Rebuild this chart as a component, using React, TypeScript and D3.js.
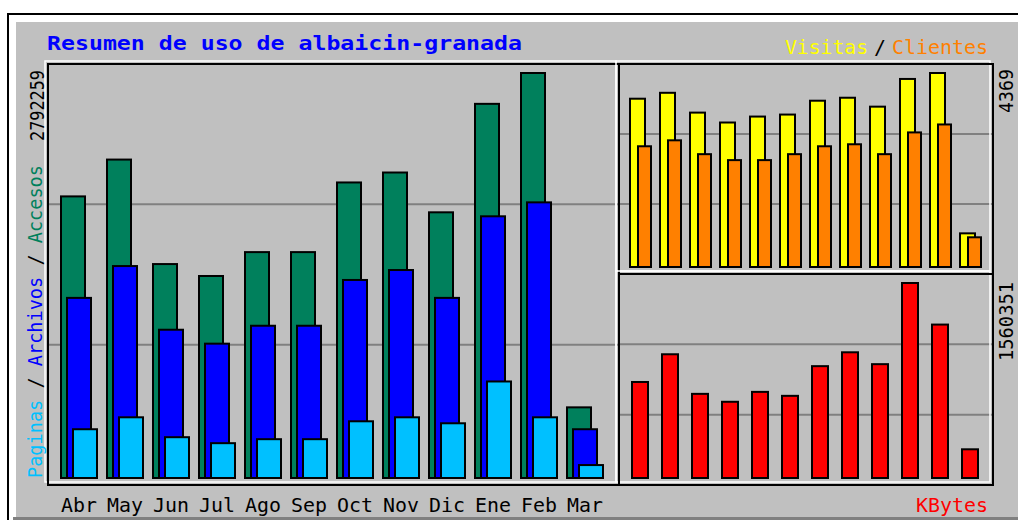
import React from "react";
import * as d3 from "d3";

// Monthly usage summary (webalizer style)
const months = ["Abr", "May", "Jun", "Jul", "Ago", "Sep", "Oct", "Nov", "Dic", "Ene", "Feb", "Mar"];
const accesos = [1941500, 2195400, 1475000, 1392700, 1557400, 1557400, 2037600, 2106200, 1831800, 2579600, 2792259, 487100];
const archivos = [1241800, 1461300, 1022200, 926200, 1049700, 1049700, 1365300, 1433900, 1241800, 1804300, 1900400, 336200];
const paginas = [336200, 418500, 281300, 240100, 267600, 267600, 391000, 418500, 377300, 665500, 418500, 89200];
const visitas = [3790, 3923, 3477, 3254, 3388, 3433, 3745, 3812, 3611, 4235, 4369, 758];
const clientes = [2719, 2853, 2541, 2407, 2407, 2541, 2719, 2764, 2541, 3031, 3210, 669];
const kbytes = [768300, 990100, 673300, 609900, 689100, 657400, 895000, 1005900, 910900, 1560351, 1227700, 229700];

const GRAY = "#c0c0c0";
const DKGRAY = "#808080";
const FONT = "'DejaVu Sans Mono', monospace";

// boxes (black frame)
const L = { x1: 48, y1: 64, x2: 619, y2: 485 };
const RT = { x1: 619, y1: 64, x2: 993, y2: 274 };
const RB = { x1: 619, y1: 274, x2: 993, y2: 485 };

const Frame = ({ b }) => {
  const h = b.y2 - b.y1;
  return (
    <g>
      {[1, 2].map((k) => (
        <line key={k} x1={b.x1} x2={b.x2} y1={b.y1 + (h * k) / 3} y2={b.y1 + (h * k) / 3} stroke={DKGRAY} strokeWidth={2} />
      ))}
      <rect x={b.x1 - 3} y={b.y1 - 3} width={b.x2 - b.x1} height={b.y2 - b.y1} fill="none" stroke="#fff" strokeWidth={1.5} />
      <rect x={b.x1} y={b.y1} width={b.x2 - b.x1} height={b.y2 - b.y1} fill="none" stroke="#000" strokeWidth={2} />
    </g>
  );
};

const Bars = ({ values, x, y, base, offset, width, color }) => (
  <g>
    {values.map((v, i) => (
      <rect
        key={i}
        x={x(months[i]) + offset}
        y={y(v)}
        width={width}
        height={base - y(v)}
        fill={color}
        stroke="#000"
        strokeWidth={2}
      />
    ))}
  </g>
);

export default function App() {
  const xLeft = d3.scaleBand().domain(months).range([57, 57 + 46 * 12]);
  const xRight = d3.scaleBand().domain(months).range([626, 626 + 30 * 12]);

  const yLeft = d3.scaleLinear().domain([0, d3.max(accesos)]).range([478, 73]);
  const yTop = d3.scaleLinear().domain([0, d3.max(visitas)]).range([267, 73]);
  const yBot = d3.scaleLinear().domain([0, d3.max(kbytes)]).range([478, 283]);

  return (
    <svg width={1018} height={520} style={{ position: "absolute", left: 0, top: 0 }}>
      <rect x={0} y={0} width={1018} height={520} fill="#fff" />
      <rect x={8} y={14} width={1040} height={540} fill="#fff" stroke="#000" strokeWidth={2} />
      <rect x={16} y={22} width={1010} height={495} fill={GRAY} />
      <rect x={13} y={517} width={1010} height={4} fill={DKGRAY} />

      <text x={47} y={50} fill="#0000ff" fontFamily={FONT} fontWeight="bold" fontSize={19}
        textLength={475} lengthAdjust="spacingAndGlyphs">
        Resumen de uso de albaicin-granada
      </text>

      <text x={785} y={54} fill="#ffff00" fontFamily={FONT} fontSize={20} textLength={83} lengthAdjust="spacingAndGlyphs">Visitas</text>
      <text x={874} y={54} fill="#000" fontFamily={FONT} fontSize={20} textLength={12} lengthAdjust="spacingAndGlyphs">/</text>
      <text x={892} y={54} fill="#ff8000" fontFamily={FONT} fontSize={20} textLength={96} lengthAdjust="spacingAndGlyphs">Clientes</text>

      <Frame b={L} />
      <Frame b={RT} />
      <Frame b={RB} />

      <Bars values={accesos} x={xLeft} y={yLeft} base={478} offset={4} width={24} color="#00805c" />
      <Bars values={archivos} x={xLeft} y={yLeft} base={478} offset={10} width={24} color="#0000ff" />
      <Bars values={paginas} x={xLeft} y={yLeft} base={478} offset={16} width={24} color="#00c0ff" />

      <Bars values={visitas} x={xRight} y={yTop} base={267} offset={4} width={15} color="#ffff00" />
      <Bars values={clientes} x={xRight} y={yTop} base={267} offset={12} width={13} color="#ff8000" />

      <Bars values={kbytes} x={xRight} y={yBot} base={478} offset={6} width={16} color="#ff0000" />

      {months.map((m) => (
        <text key={m} x={xLeft(m) + 22} y={512} textAnchor="middle" fill="#000" fontFamily={FONT} fontSize={20}
          textLength={36} lengthAdjust="spacingAndGlyphs">
          {m}
        </text>
      ))}

      <text x={916} y={512} fill="#ff0000" fontFamily={FONT} fontSize={20} textLength={72} lengthAdjust="spacingAndGlyphs">KBytes</text>

      <text transform="translate(44,141) rotate(-90)" fill="#000" fontFamily={FONT} fontSize={20}
        textLength={71} lengthAdjust="spacingAndGlyphs">
        {d3.format("d")(d3.max(accesos))}
      </text>
      <text transform="translate(42,478) rotate(-90)" fontFamily={FONT} fontSize={20}
        textLength={313} lengthAdjust="spacingAndGlyphs" xmlSpace="preserve">
        <tspan fill="#00c0ff">Paginas</tspan>
        <tspan fill="#000">{" / "}</tspan>
        <tspan fill="#0000ff">Archivos</tspan>
        <tspan fill="#000">{" / "}</tspan>
        <tspan fill="#00805c">Accesos</tspan>
      </text>
      <text transform="translate(1013,113) rotate(-90)" fill="#000" fontFamily={FONT} fontSize={19}
        textLength={44} lengthAdjust="spacingAndGlyphs">
        {d3.max(visitas)}
      </text>
      <text transform="translate(1013,361) rotate(-90)" fill="#000" fontFamily={FONT} fontSize={19}
        textLength={79} lengthAdjust="spacingAndGlyphs">
        {d3.max(kbytes)}
      </text>
    </svg>
  );
}
